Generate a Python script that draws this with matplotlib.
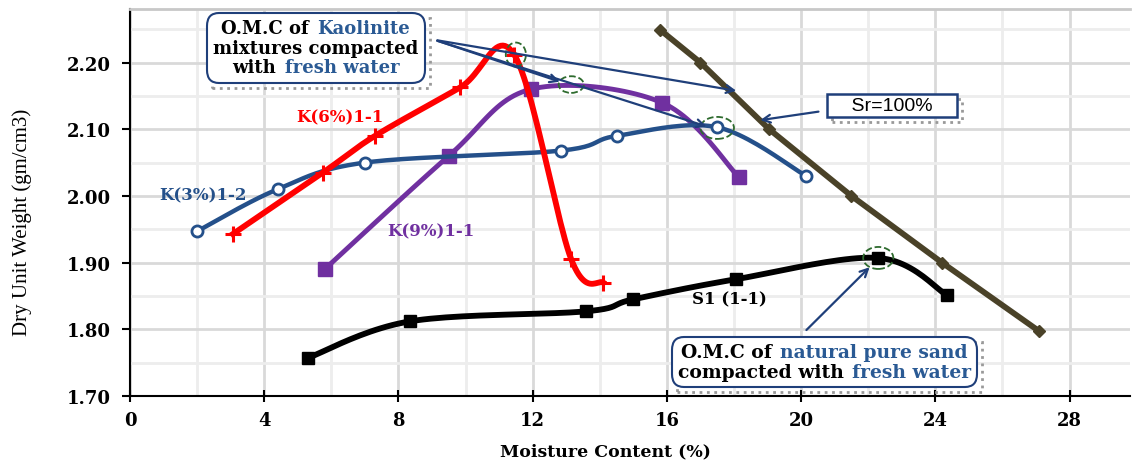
import matplotlib
matplotlib.use('Agg')
import matplotlib.pyplot as plt
from matplotlib.patches import Ellipse, Rectangle
from matplotlib.offsetbox import TextArea, HPacker, VPacker, AnnotationBbox
import numpy as np

# data
k3_x = [2.0, 4.4, 7.0, 12.85, 14.5, 17.5, 20.15]
k3_y = [1.947, 2.010, 2.050, 2.068, 2.090, 2.103, 2.030]

k6_x = [3.07, 5.75, 7.3, 9.85, 11.45, 13.15, 14.1]
k6_y = [1.943, 2.035, 2.090, 2.163, 2.212, 1.905, 1.870]

k9_x = [5.8, 9.5, 11.95, 15.85, 18.15]
k9_y = [1.890, 2.060, 2.160, 2.140, 2.028]

s1_x = [5.3, 8.35, 13.6, 15.0, 18.05, 22.3, 24.35]
s1_y = [1.757, 1.812, 1.827, 1.845, 1.875, 1.907, 1.851]

sr_x = [15.8, 17.0, 19.05, 21.5, 24.2, 27.1]
sr_y = [2.249, 2.200, 2.100, 2.000, 1.900, 1.797]

x_ticks = [0, 4, 8, 12, 16, 20, 24, 28]
y_ticks = [1.70, 1.80, 1.90, 2.00, 2.10, 2.20]

NAVY = '#1F3F7A'
BLUE_TXT = '#2A5A94'
BLUE = '#24508A'
PURPLE = '#7030A0'
RED = '#FF0000'
BROWN = '#4A4228'
GREEN = '#2E6B2E'
SERIF = 'Liberation Serif'
WIDE = 'DejaVu Serif'


def smooth(x, y, n=24):
    # excel-like smoothed line (catmull-rom through the points)
    x = np.asarray(x, float); y = np.asarray(y, float)
    px = np.r_[x[0], x, x[-1]]; py = np.r_[y[0], y, y[-1]]
    xs, ys = [], []
    for i in range(1, len(px) - 2):
        t = np.linspace(0, 1, n)
        for p, out in ((px, xs), (py, ys)):
            p0, p1, p2, p3 = p[i-1], p[i], p[i+1], p[i+2]
            out.extend(0.5 * ((2*p1) + (-p0 + p2)*t + (2*p0 - 5*p1 + 4*p2 - p3)*t**2
                               + (-p0 + 3*p1 - 3*p2 + p3)*t**3))
    return xs, ys


fig = plt.figure(figsize=(11.33, 4.64), dpi=100)
ax = fig.add_axes([0.1147, 0.1444, 0.8826, 0.8336])

ax.set_xlim(0, 29.8)
ax.set_ylim(1.70, 2.28)
ax.set_xticks(x_ticks)
ax.set_xticks(np.arange(2, 30, 4), minor=True)
ax.set_yticks(y_ticks)
ax.set_yticks(np.arange(1.75, 2.28, 0.1), minor=True)
ax.grid(which='major', color='#D9D9D9', lw=2)
ax.grid(which='minor', color='#EDEDED', lw=2)
ax.set_axisbelow(True)
ax.set_xticklabels([str(v) for v in x_ticks], fontfamily=WIDE, fontweight='bold', fontsize=13)
ax.set_yticklabels(['%.2f' % v for v in y_ticks], fontfamily=WIDE, fontweight='bold', fontsize=13)
ax.tick_params(axis='x', which='major', direction='inout', length=8, width=1.5, pad=7)
ax.tick_params(axis='y', which='major', direction='out', length=6, width=1.5, pad=8)
ax.tick_params(which='minor', length=0)
for s in ['left', 'bottom']:
    ax.spines[s].set_linewidth(1.5)
ax.spines['right'].set_visible(False)
ax.spines['top'].set_color('#C8C8C8')
ax.spines['top'].set_linewidth(2)

ax.set_xlabel('Moisture Content (%)', fontfamily=WIDE, fontweight='bold', fontsize=12.5)
ax.xaxis.set_label_coords(0.475, -0.12)
ax.set_ylabel('Dry Unit Weight (gm/cm3)', fontfamily=SERIF, fontsize=15)
ax.yaxis.set_label_coords(-0.098, 0.452)

# series
xs, ys = smooth(k3_x, k3_y)
ax.plot(xs, ys, color=BLUE, lw=3.2, zorder=4)
ax.plot(k3_x, k3_y, 'o', ms=8, mfc='white', mec=BLUE, mew=2, zorder=5)

xs, ys = smooth(k6_x, k6_y)
ax.plot(xs, ys, color=RED, lw=4.2, zorder=4)
ax.plot(k6_x, k6_y, '+', ms=11, mec=RED, mew=2.2, zorder=5)

xs, ys = smooth(k9_x, k9_y)
ax.plot(xs, ys, color=PURPLE, lw=3.5, zorder=3)
ax.plot(k9_x, k9_y, 's', ms=10, color=PURPLE, zorder=3)

xs, ys = smooth(s1_x, s1_y)
ax.plot(xs, ys, color='black', lw=4.2, zorder=4)
ax.plot(s1_x, s1_y, 's', ms=9, color='black', zorder=5)

ax.plot(sr_x, sr_y, color=BROWN, lw=4.2, zorder=3)
ax.plot(sr_x, sr_y, 'D', ms=6, color=BROWN, zorder=3)

# series labels
lab = dict(fontfamily=WIDE, fontweight='bold', fontsize=12, ha='center', va='center', zorder=6)
ax.text(6.25, 2.119, 'K(6%)1-1', color=RED, **lab)
ax.text(2.17, 2.002, 'K(3%)1-2', color=BLUE, **lab)
ax.text(8.96, 1.947, 'K(9%)1-1', color=PURPLE, **lab)
ax.text(17.86, 1.845, 'S1 (1-1)', color='black', **lab)

# dashed circles around the O.M.C points
for cx, cy, w, h in [(11.5, 2.212, 0.6, 0.036), (13.15, 2.167, 0.75, 0.025),
                     (17.5, 2.102, 1.0, 0.033), (22.3, 1.907, 0.9, 0.033)]:
    ax.add_patch(Ellipse((cx, cy), w, h, fill=False, ec=GREEN, ls='--', lw=1.3, zorder=7))

# arrows
arr = dict(arrowstyle='->', color=NAVY, lw=1.6, mutation_scale=14)
for tx, ty in [(12.89, 2.170), (17.26, 2.103), (18.15, 2.157)]:
    ax.annotate('', xy=(tx, ty), xytext=(9.08, 2.234), arrowprops=arr, zorder=8)
ax.annotate('', xy=(18.7, 2.113), xytext=(20.6, 2.127), arrowprops=arr, zorder=8)
ax.annotate('', xy=(22.1, 1.896), xytext=(20.1, 1.796), arrowprops=arr, zorder=8)


def rich_box(lines, x, y, size=13):
    # text box with coloured words
    rows = []
    for parts in lines:
        boxes = [TextArea(t, textprops=dict(color=c, fontfamily=WIDE, fontweight='bold', fontsize=size))
                 for t, c in parts]
        rows.append(HPacker(children=boxes, align='baseline', pad=0, sep=6))
    box = VPacker(children=rows, align='center', pad=0, sep=1)
    ab = AnnotationBbox(box, (x, y), xycoords='data', frameon=True, zorder=9,
                        bboxprops=dict(boxstyle='round,pad=0.45,rounding_size=0.9', fc='white', ec=NAVY, lw=1.5))
    ax.add_artist(ab)
    return ab


boxes = [rich_box([[('O.M.C of', 'black'), ('Kaolinite', BLUE_TXT)],
                   [('mixtures compacted', 'black')],
                   [('with', 'black'), ('fresh water', BLUE_TXT)]], 5.54, 2.222),
         rich_box([[('O.M.C of', 'black'), ('natural pure sand', BLUE_TXT)],
                   [('compacted with', 'black'), ('fresh water', BLUE_TXT)]], 20.7, 1.751, size=13.5)]

sr = ax.text(22.7, 2.136, '    Sr=100%    ', fontfamily='Liberation Sans', fontsize=14, ha='center', va='center',
             zorder=9, bbox=dict(boxstyle='square,pad=0.15', fc='white', ec=NAVY, lw=1.8))

# dotted shadows behind the boxes
fig.canvas.draw()
inv = ax.transData.inverted()
for bb in [b.patch.get_window_extent() for b in boxes] + [sr.get_bbox_patch().get_window_extent()]:
    (x0, y0), (x1, y1) = inv.transform([(bb.x0 + 5, bb.y0 - 5), (bb.x1 + 5, bb.y1 - 5)])
    ax.add_patch(Rectangle((x0, y0), x1 - x0, y1 - y0, fill=False, ec='#999999', lw=2, ls=':', zorder=8.5))

fig.savefig('out.png', dpi=100)
